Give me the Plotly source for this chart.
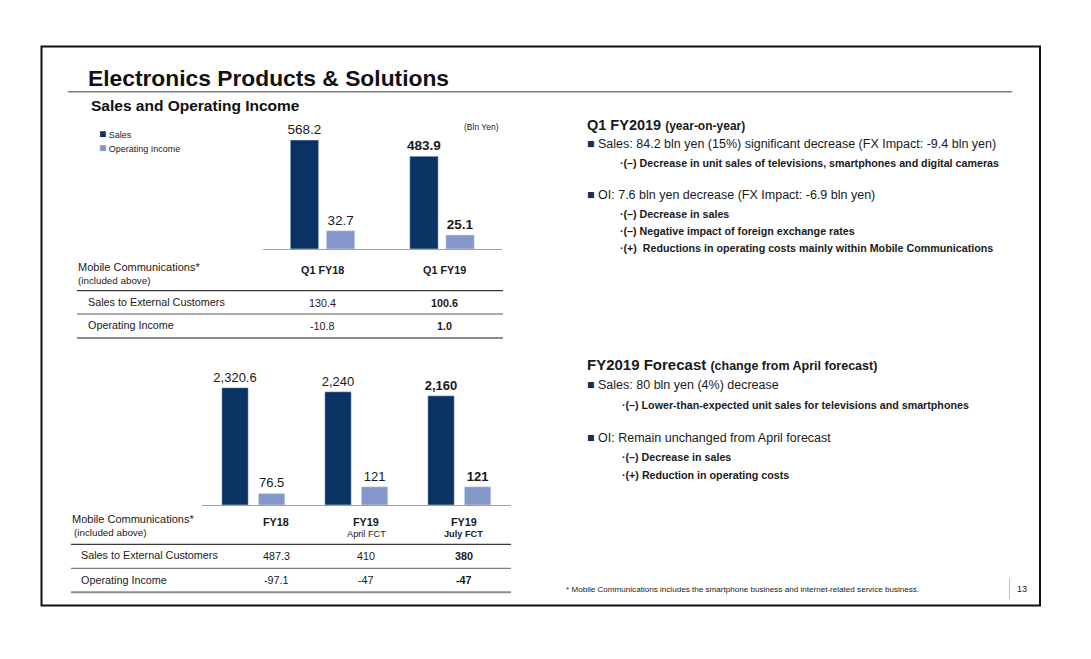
import plotly.graph_objects as go

# ---------------- data ----------------
q_categories = ["Q1 FY18", "Q1 FY19"]
q_sales = [568.2, 483.9]
q_oi = [32.7, 25.1]

fy_categories = ["FY18", "FY19 April FCT", "FY19 July FCT"]
fy_sales = [2320.6, 2240, 2160]
fy_oi = [76.5, 121, 121]

q_header = ["Q1 FY18", "Q1 FY19"]
q_mobile_sales = [130.4, 100.6]
q_mobile_oi = [-10.8, 1.0]

fy_header_main = ["FY18", "FY19", "FY19"]
fy_header_sub = ["", "April FCT", "July FCT"]
fy_mobile_sales = [487.3, 410, 380]
fy_mobile_oi = [-97.1, -47, -47]

q_bold = [False, True]
fy_bold = [False, False, True]

# page has an 8px body margin: the figure origin sits at screen (8, 8)
OFF = 8
W, H = 1091 - 2 * OFF, 659 - 2 * OFF
NAVY = "#0a3363"
LIGHT = "#8497c9"
TXT = "#1a1a1a"
FONT = "Liberation Sans, Arial, sans-serif"
NARROW = "Liberation Sans Narrow, Arial Narrow, Liberation Sans, Arial, sans-serif"


def X(px):
    return (px - OFF) / W


def Y(py):
    return 1 - (py - OFF) / H


def fmt(v, dec=None):
    if dec is None:
        dec = 0 if float(v).is_integer() else 1
    return f"{v:,.{dec}f}"


def b(s, flag):
    return f"<b>{s}</b>" if flag else s


fig = go.Figure()

# ---------------- top chart (quarter) ----------------
fig.add_trace(go.Bar(
    x=q_categories, y=q_sales, name="Sales", xaxis="x", yaxis="y",
    marker_color=NAVY, width=0.238, offset=-0.272, showlegend=False,
    text=[b(fmt(v, 1), f) for v, f in zip(q_sales, q_bold)],
    textposition="outside", cliponaxis=False, constraintext="none",
    textfont=dict(family=NARROW, size=13.5, color=TXT),
))
fig.add_trace(go.Bar(
    x=q_categories, y=q_oi, name="Operating Income", xaxis="x", yaxis="y2",
    marker_color=LIGHT, width=0.238, offset=0.03, showlegend=False,
    text=[b(fmt(v, 1), f) for v, f in zip(q_oi, q_bold)],
    textposition="outside", cliponaxis=False, constraintext="none",
    textfont=dict(family=NARROW, size=13.5, color=TXT),
))

# ---------------- bottom chart (fiscal year) ----------------
fig.add_trace(go.Bar(
    x=fy_categories, y=fy_sales, name="Sales", xaxis="x2", yaxis="y3",
    marker_color=NAVY, width=0.257, offset=-0.308, showlegend=False,
    text=[b(fmt(v), f) for v, f in zip(fy_sales, fy_bold)],
    textposition="outside", cliponaxis=False, constraintext="none",
    textfont=dict(family=NARROW, size=13, color=TXT),
))
fig.add_trace(go.Bar(
    x=fy_categories, y=fy_oi, name="Operating Income", xaxis="x2", yaxis="y4",
    marker_color=LIGHT, width=0.257, offset=0.047, showlegend=False,
    text=[b(fmt(v), f) for v, f in zip(fy_oi, fy_bold)],
    textposition="outside", cliponaxis=False, constraintext="none",
    textfont=dict(family=NARROW, size=13, color=TXT),
))

hidden_y = dict(visible=False, fixedrange=True)
fig.update_layout(
    width=W, height=H,
    margin=dict(l=0, r=0, t=0, b=0),
    paper_bgcolor="white", plot_bgcolor="rgba(0,0,0,0)",
    font=dict(family=FONT, color=TXT),
    barmode="overlay",
    showlegend=False,
    xaxis=dict(domain=[X(263), X(502)], anchor="y", showticklabels=False,
               ticks="", showgrid=False, showline=True, linecolor="#a0a0a0",
               linewidth=1.3, zeroline=False),
    yaxis=dict(domain=[Y(249), Y(120)], range=[0, 129 / 0.1918], **hidden_y),
    yaxis2=dict(overlaying="y", range=[0, 129 / 0.56], **hidden_y),
    xaxis2=dict(domain=[X(202), X(511)], anchor="y3", showticklabels=False,
                ticks="", showgrid=False, showline=True, linecolor="#a0a0a0",
                linewidth=1.3, zeroline=False),
    yaxis3=dict(domain=[Y(505), Y(375)], range=[0, 130 / 0.05055], **hidden_y),
    yaxis4=dict(overlaying="y3", range=[0, 130 / 0.151], **hidden_y),
    title=dict(text="<b>Electronics Products & Solutions</b>",
               x=X(88), xanchor="left", y=Y(78), yanchor="middle",
               xref="paper", yref="paper",
               font=dict(size=22.8, color="#111111", family=FONT)),
)

shapes = []
# slide frame
shapes.append(dict(type="rect", xref="paper", yref="paper",
                   x0=X(41.5), x1=X(1040), y0=Y(46.5), y1=Y(605.5),
                   line=dict(color="#111111", width=2)))
# title underline
shapes.append(dict(type="line", xref="paper", yref="paper",
                   x0=X(68), x1=X(1012), y0=Y(91.7), y1=Y(91.7),
                   line=dict(color="#7f7f7f", width=1.5)))
# top table lines
for yy, col, wd in [(290.7, "#3a3a3a", 1.2), (314, "#5a5a5a", 1), (338, "#8c8c8c", 2)]:
    shapes.append(dict(type="line", xref="paper", yref="paper",
                       x0=X(77), x1=X(503), y0=Y(yy), y1=Y(yy),
                       line=dict(color=col, width=wd)))
# bottom table lines
for yy, col, wd in [(544.3, "#3a3a3a", 1.2), (568.3, "#5a5a5a", 1), (592.3, "#8c8c8c", 2)]:
    shapes.append(dict(type="line", xref="paper", yref="paper",
                       x0=X(71), x1=X(511), y0=Y(yy), y1=Y(yy),
                       line=dict(color=col, width=wd)))
# page number separator
shapes.append(dict(type="line", xref="paper", yref="paper",
                   x0=X(1009.5), x1=X(1009.5), y0=Y(578), y1=Y(599),
                   line=dict(color="#bfbfbf", width=1)))
fig.update_layout(shapes=shapes)

ann = []


def T(text, px, py, size, anchor="left", color=TXT, family=FONT):
    ann.append(dict(text=text, x=X(px), y=Y(py), xref="paper", yref="paper",
                    xanchor=anchor, yanchor="middle", showarrow=False,
                    font=dict(size=size, color=color, family=family)))


T("<b>Sales and Operating Income</b>", 89, 105.5, 15.5, color="#111111")
T("(Bln Yen)", 481, 127, 8.5, anchor="center")

# legend
SQ = "<span style='color:{c};font-size:12px'>■</span> "
T(SQ.format(c=NAVY) + "Sales", 97, 134.3, 9)
T(SQ.format(c=LIGHT) + "Operating Income", 97, 147.7, 9)

# top table
T("Mobile Communications*", 76, 267, 11)
T("(included above)", 76, 280, 9.8)
qcols = [322, 444]
for i, h in enumerate(q_header):
    T(f"<b>{h}</b>", qcols[i], 270, 10.8, anchor="center")
T("Sales to External Customers", 86, 302, 10.8)
T("Operating Income", 86, 325, 10.8)
for i in range(len(q_header)):
    T(b(fmt(q_mobile_sales[i], 1), q_bold[i]), qcols[i], 303, 10.8, anchor="center")
    T(b(fmt(q_mobile_oi[i], 1), q_bold[i]), qcols[i], 326, 10.8, anchor="center")

# bottom table
T("Mobile Communications*", 70, 519, 11)
T("(included above)", 72, 532.5, 9.8)
fcols = [276, 366, 463.5]
for i in range(len(fy_header_main)):
    T(b(fy_header_main[i], True), fcols[i], 521.5, 10.8, anchor="center")
    if fy_header_sub[i]:
        T(b(fy_header_sub[i], fy_bold[i]), fcols[i], 534, 9.2, anchor="center")
    T(b(fmt(fy_mobile_sales[i]), fy_bold[i]), fcols[i], 555.5, 10.8, anchor="center")
    T(b(fmt(fy_mobile_oi[i]), fy_bold[i]), fcols[i], 579.5, 10.8, anchor="center")
T("Sales to External Customers", 79, 555, 10.8)
T("Operating Income", 79, 579.5, 10.8)

# right commentary
BUL = "<span style='color:#1c2e50'>■</span> "
SUB = 10.7
MAIN = 12.5
T("<b>Q1 FY2019 <span style='font-size:12px'>(year-on-year)</span></b>", 585, 125, 14.5)
T(BUL + "Sales: 84.2 bln yen (15%) significant decrease (FX Impact: -9.4 bln yen)", 585, 144.5, MAIN)
T("<b>·(–) Decrease in unit sales of televisions, smartphones and digital cameras</b>", 618, 163, SUB)
T(BUL + "OI: 7.6 bln yen decrease (FX Impact: -6.9 bln yen)", 585, 195.5, MAIN)
T("<b>·(–) Decrease in sales</b>", 618, 214, SUB)
T("<b>·(–) Negative impact of foreign exchange rates</b>", 618, 231, SUB)
T("<b>·(+)  Reductions in operating costs mainly within Mobile Communications</b>", 618, 248, SUB)

T("<b>FY2019 Forecast <span style='font-size:12.5px'>(change from April forecast)</span></b>", 585, 364.5, 15)
T(BUL + "Sales: 80 bln yen (4%) decrease", 585, 385, MAIN)
T("<b>·(–) Lower-than-expected unit sales for televisions and smartphones</b>", 620, 405, SUB)
T(BUL + "OI: Remain unchanged from April forecast", 585, 437.5, MAIN)
T("<b>·(–) Decrease in sales</b>", 620, 457, SUB)
T("<b>·(+) Reduction in operating costs</b>", 620, 474.5, SUB)

T("* Mobile Communications includes the smartphone business and internet-related service business.",
  564, 589, 8.1)
T("13", 1021.5, 589, 9, anchor="center")

fig.update_layout(annotations=ann)

fig.write_html("out.html")
